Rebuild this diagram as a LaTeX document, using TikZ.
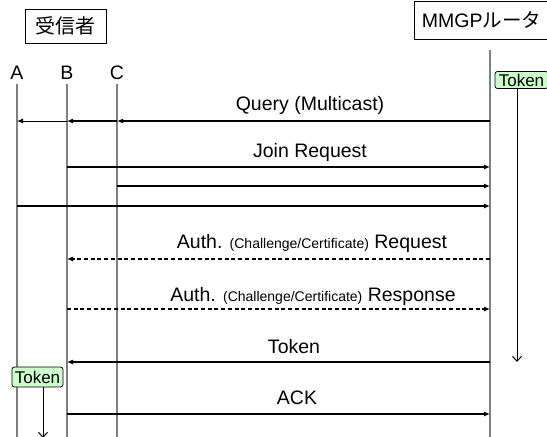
\documentclass[tikz,border=0pt]{standalone}
\usepackage{fontspec}
\setmainfont{Liberation Sans}
\newfontfamily\jpfont{Noto Sans CJK JP}
\usetikzlibrary{arrows.meta,calc,positioning}
\definecolor{tokgreen}{HTML}{CCFFCC}
\newcommand{\smalltxt}[1]{{\fontsize{14}{16}\selectfont #1}}
\tikzset{
    lifeline/.style={draw=gray,line width=1.3pt},
    msg/.style={line width=1.1pt,draw=black,-{Latex[length=6pt,width=5pt]}},
    authmsg/.style={msg,dash pattern=on 4pt off 2.7pt},
    headbox/.style={draw=black,line width=0.9pt,inner sep=2pt},
    tokenbox/.style={draw=black,line width=0.8pt,fill=tokgreen,rounded corners=2.5pt,inner sep=0.5pt,font=\fontsize{17}{18}\selectfont},
    tokarrow/.style={line width=1pt,draw=black,-{Straight Barb[length=5pt,width=9pt]}},
    every node/.style={font=\fontsize{19.5}{21}\selectfont}
}

\begin{document}
\begin{tikzpicture}[x=1pt,y=-1pt]
  \useasboundingbox (0,0) rectangle (547,437);
  % heads
  \node[headbox,minimum width=81pt,minimum height=34pt] (rcv) at (65.5,26) {\jpfont\fontsize{20}{22}\selectfont 受信者};
  \node[headbox,minimum width=135pt,minimum height=38pt] (rtr) at (481.5,20) {MMGP\jpfont ルータ};
  % lifelines
  \foreach \n/\x in {A/17,B/67,C/117}{
    \node (lbl\n) at (\x,73) {\n};
    \coordinate (top\n) at (\x,84);
    \coordinate (bot\n) at (\x,437);
    \draw[lifeline] (top\n) -- (bot\n);
  }
  \coordinate (topR) at (490,50);
  \coordinate (botR) at (490,437);
  \draw[lifeline] (topR) -- (botR);
  % message rows
  \foreach \r/\y in {q/121,j1/167,j2/186,j3/206,ar/259,as/309,tk/362,ack/414}
    \coordinate (\r) at (0,\y);
  % query
  \node (lq) at (310,105) {Query (Multicast)};
  \draw[msg,line width=1.6pt] (topR |- q) -- (topC |- q);
  \draw[msg] (topC |- q) -- (topB |- q);
  \draw[msg,line width=0.9pt] (topB |- q) -- (topA |- q);
  % join
  \node (lj) at (310,152) {Join Request};
  \draw[msg] (topB |- j1) -- (topR |- j1);
  \draw[msg] (topC |- j2) -- (topR |- j2);
  \draw[msg] (topA |- j3) -- (topR |- j3);
  % auth
  \node (lar) at (312,243) {Auth. \smalltxt{(Challenge/Certificate)} Request};
  \draw[authmsg] (topR |- ar) -- (topB |- ar);
  \node (las) at (313,296) {Auth. \smalltxt{(Challenge/Certificate)} Response};
  \draw[authmsg] (topB |- as) -- (topR |- as);
  % token / ack
  \node (ltk) at (294,347) {Token};
  \draw[msg] (topR |- tk) -- (topB |- tk);
  \node (lack) at (297,398) {ACK};
  \draw[msg] (topB |- ack) -- (topR |- ack);
  % tokens
  \node[tokenbox,minimum width=53pt,minimum height=17pt] (tokR) at (521.5,80) {Token};
  \coordinate (tokRend) at (517,362);
  \draw[tokarrow] (tokR.south -| tokRend) -- (tokRend);
  \node[tokenbox,minimum width=51pt,minimum height=20pt] (tokL) at (37.5,377) {Token};
  \coordinate (tokLend) at (43,438);
  \draw[tokarrow] (tokL.south -| tokLend) -- (tokLend);
\end{tikzpicture}
\end{document}
